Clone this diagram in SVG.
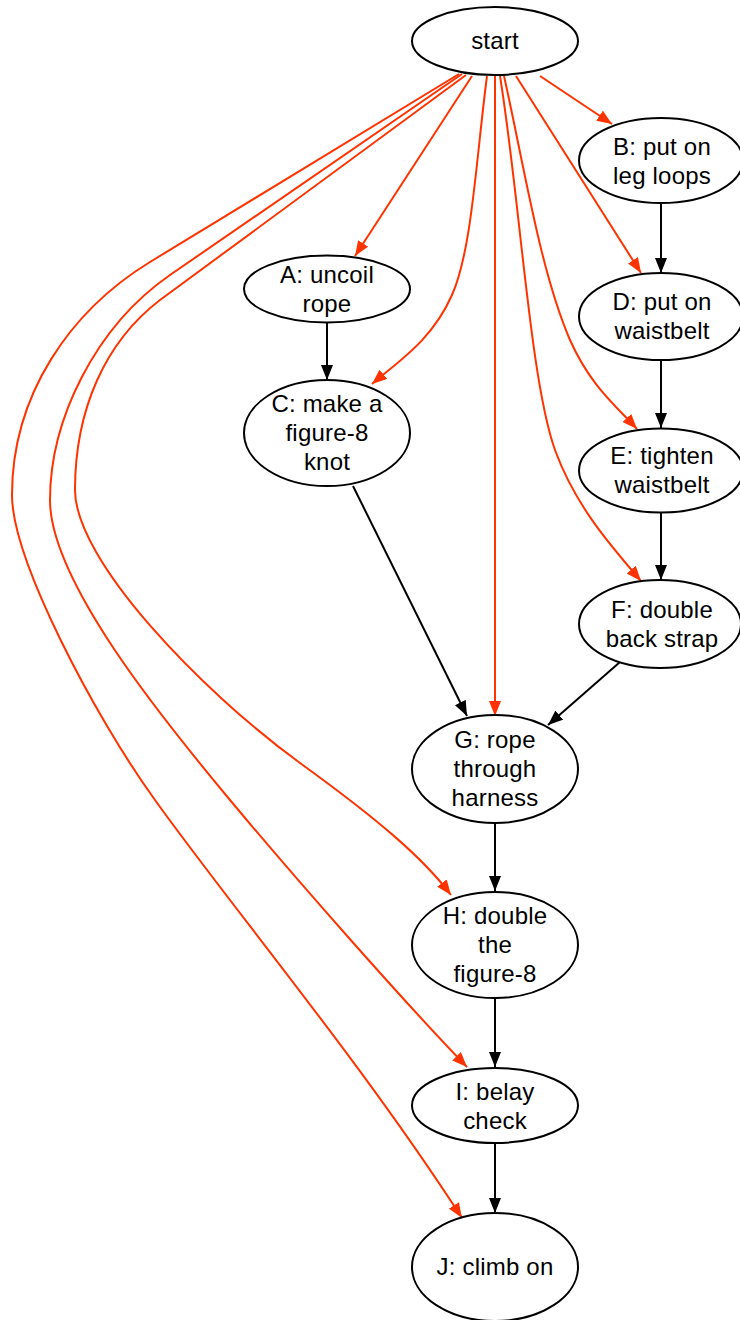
<svg xmlns="http://www.w3.org/2000/svg" width="740" height="1320" viewBox="0 0 740 1320">
  <style>
    .node ellipse { fill: #ffffff; stroke: #000000; stroke-width: 2; }
    .node text { font-family: "Liberation Sans", Arial, Helvetica, sans-serif; font-size: 24px; letter-spacing: 0.2px; fill: #000000; text-anchor: middle; }
    .edge { fill: none; stroke-width: 2; }
    .red { stroke: #ff3300; marker-end: url(#arrowRed); }
    .black { stroke: #000000; marker-end: url(#arrowBlack); }
  </style>
  <defs>
    <marker id="arrowRed" markerUnits="userSpaceOnUse" markerWidth="16" markerHeight="12" refX="15" refY="6" orient="auto">
      <path d="M0,0 L15,6 L0,12 Z" fill="#ff3300"/>
    </marker>
    <marker id="arrowBlack" markerUnits="userSpaceOnUse" markerWidth="16" markerHeight="12" refX="15" refY="6" orient="auto">
      <path d="M0,0 L15,6 L0,12 Z" fill="#000000"/>
    </marker>
  </defs>
  <rect width="740" height="1320" fill="#ffffff"/>

  <!-- connectors -->
  <g id="edges">
    <!-- from start (red) -->
    <path class="edge red" d="M540,76 L612,124"/>
    <path class="edge red" d="M472,76 L355,256"/>
    <path class="edge red" d="M487,76 C476,160 472,250 452,295 C432,340 400,360 372,384"/>
    <path class="edge red" d="M495,76 L495,716"/>
    <path class="edge red" d="M516,76 L641,273"/>
    <path class="edge red" d="M504,76 C525,170 540,270 570,340 C590,385 615,405 637,429"/>
    <path class="edge red" d="M500,76 C520,200 530,380 555,450 C575,505 610,545 641,581"/>
    <path class="edge red" d="M466,75 L160,300 C105,342 75,410 75,490 C75,560 200,690 300,763 C380,821 423,858 451,895"/>
    <path class="edge red" d="M462,74 L170,275 C95,327 50,420 50,500 C50,580 160,716 230,800 C300,884 407,1005 467,1067"/>
    <path class="edge red" d="M459,74 L150,262 C70,311 12,395 12,495 C12,560 95,717 155,800 C230,905 360,1060 462,1218"/>
    <!-- sequence (black) -->
    <path class="edge black" d="M327,323 L327,380"/>
    <path class="edge black" d="M353,486 L467,716"/>
    <path class="edge black" d="M620,662 L548,725"/>
    <path class="edge black" d="M661,203 L661,273"/>
    <path class="edge black" d="M661,360 L661,428"/>
    <path class="edge black" d="M661,513 L661,580"/>
    <path class="edge black" d="M495,823 L495,891"/>
    <path class="edge black" d="M495,998 L495,1067"/>
    <path class="edge black" d="M495,1143 L495,1213"/>
  </g>

  <g id="start" class="node">
    <ellipse cx="495" cy="41" rx="83" ry="34"/>
    <text x="495" y="49">start</text>
  </g>
  <g id="A" class="node">
    <ellipse cx="327" cy="289" rx="83" ry="33.5"/>
    <text x="327" y="283">A: uncoil</text>
    <text x="327" y="312">rope</text>
  </g>
  <g id="B" class="node">
    <ellipse cx="661" cy="160.5" rx="82" ry="42.5"/>
    <text x="662" y="155">B: put on</text>
    <text x="662" y="184">leg loops</text>
  </g>
  <g id="C" class="node">
    <ellipse cx="327" cy="433" rx="83" ry="53"/>
    <text x="327" y="412">C: make a</text>
    <text x="327" y="441">figure-8</text>
    <text x="327" y="470">knot</text>
  </g>
  <g id="D" class="node">
    <ellipse cx="661" cy="316.5" rx="82" ry="43.5"/>
    <text x="662" y="310">D: put on</text>
    <text x="662" y="339">waistbelt</text>
  </g>
  <g id="E" class="node">
    <ellipse cx="661" cy="470.5" rx="82" ry="42"/>
    <text x="662" y="464">E: tighten</text>
    <text x="662" y="493">waistbelt</text>
  </g>
  <g id="F" class="node">
    <ellipse cx="660" cy="624" rx="81" ry="44"/>
    <text x="662" y="618">F: double</text>
    <text x="662" y="647">back strap</text>
  </g>
  <g id="G" class="node">
    <ellipse cx="495" cy="769" rx="83" ry="54"/>
    <text x="495" y="748">G: rope</text>
    <text x="495" y="777">through</text>
    <text x="495" y="806">harness</text>
  </g>
  <g id="H" class="node">
    <ellipse cx="495" cy="945" rx="83" ry="53"/>
    <text x="495" y="924">H: double</text>
    <text x="495" y="953">the</text>
    <text x="495" y="982">figure-8</text>
  </g>
  <g id="I" class="node">
    <ellipse cx="495" cy="1105.5" rx="83" ry="37.5"/>
    <text x="495" y="1100">I: belay</text>
    <text x="495" y="1129">check</text>
  </g>
  <g id="J" class="node">
    <ellipse cx="495" cy="1267" rx="83" ry="54"/>
    <text x="495" y="1275">J: climb on</text>
  </g>
</svg>
